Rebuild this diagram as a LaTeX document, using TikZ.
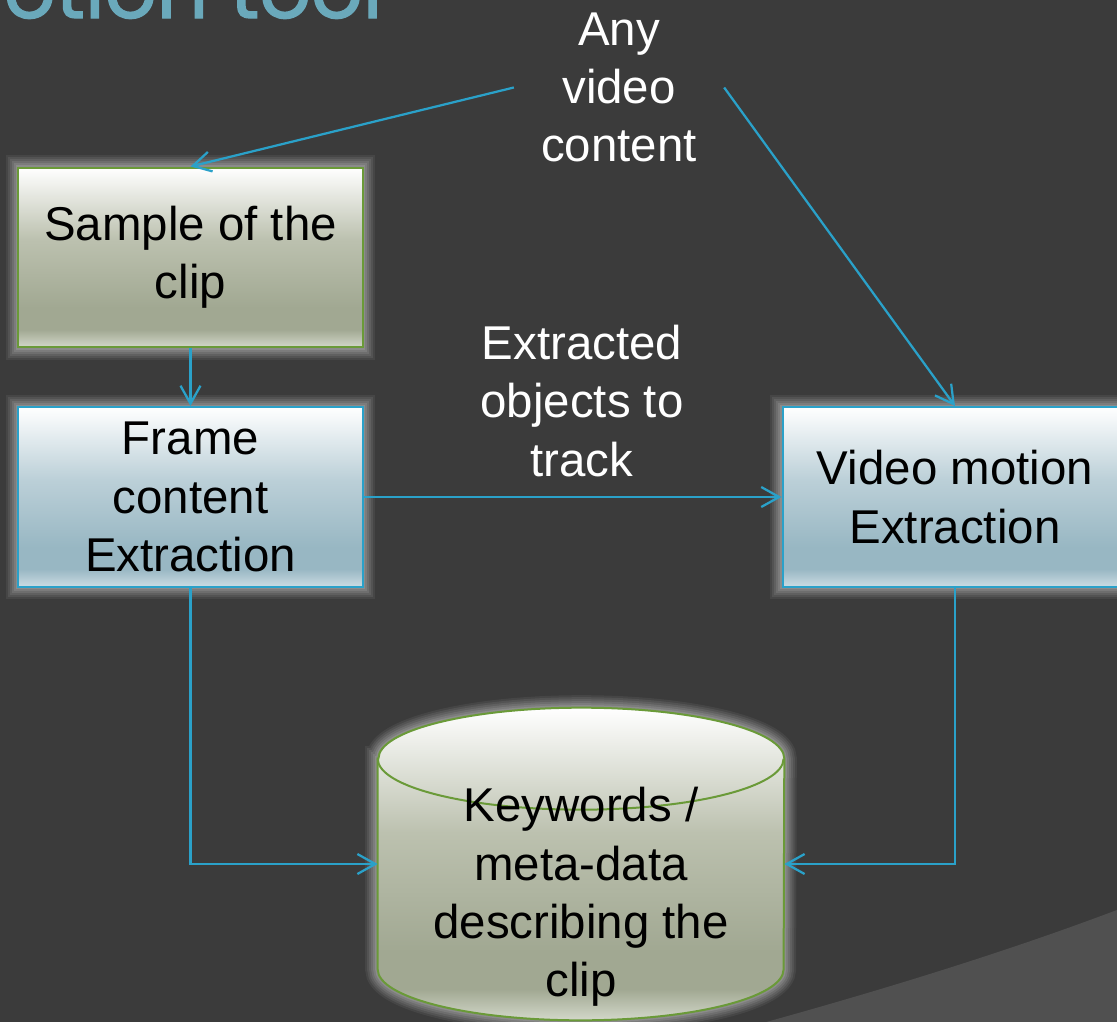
\documentclass[tikz,border=0pt]{standalone}
\usepackage{fontspec}
\setmainfont{Liberation Sans}
\newfontfamily\titlefont[FakeBold=1.5]{Poppins}
\usetikzlibrary{arrows.meta}

\definecolor{slidebg}{HTML}{3B3B3B}
\definecolor{slidecurve}{HTML}{505050}
\definecolor{titleteal}{HTML}{6AA9BB}
\definecolor{linkblue}{HTML}{2AA1C9}
\definecolor{boxgreen}{HTML}{6A9A38}
\definecolor{greenmid}{HTML}{BCC1AF}
\definecolor{greendark}{HTML}{A1A892}
\definecolor{greenlow}{HTML}{D3D8CA}
\definecolor{bluemid}{HTML}{BCD0D8}
\definecolor{bluedark}{HTML}{98B7C3}
\definecolor{bluelow}{HTML}{CCDCE3}

\pgfdeclareverticalshading{greenfill}{100bp}{color(0bp)=(greenlow); color(25bp)=(greenlow);
  color(30bp)=(greendark); color(36bp)=(greendark); color(55bp)=(greenmid);
  color(75bp)=(white); color(100bp)=(white)}
\pgfdeclareverticalshading{bluefill}{100bp}{color(0bp)=(bluelow); color(25bp)=(bluelow);
  color(30bp)=(bluedark); color(36bp)=(bluedark); color(55bp)=(bluemid);
  color(75bp)=(white); color(100bp)=(white)}

\begin{document}
\begin{tikzpicture}[x=0.02cm, y=-0.02cm,
    glow/.style={preaction={draw=white, line width=0.5cm, opacity=0.06},
      preaction={draw=white, line width=0.42cm, opacity=0.07},
      preaction={draw=white, line width=0.34cm, opacity=0.08},
      preaction={draw=white, line width=0.26cm, opacity=0.09},
      preaction={draw=white, line width=0.18cm, opacity=0.1},
      preaction={draw=white, line width=0.1cm, opacity=0.12}},
    step box/.style={rectangle, glow, minimum width=6.9cm, minimum height=3.6cm,
      align=center, line width=0.04cm,
      font=\fontsize{27}{33.2}\selectfont},
    greenbox/.style={step box, draw=boxgreen, shading=greenfill},
    bluebox/.style={step box, draw=linkblue, shading=bluefill},
    store/.style={rectangle, inner sep=0, minimum width=8.12cm, minimum height=6.24cm},
    storetext/.style={align=center, font=\fontsize{27}{33.2}\selectfont},
    note/.style={text=white, align=center, inner sep=0.54cm,
      font=\fontsize{27}{33.2}\selectfont},
    connection/.style={-{Straight Barb[length=0.36cm,width=0.4cm]},
      draw=linkblue, line width=0.045cm}
  ]
  \useasboundingbox (0,0) rectangle (1117,1022);
  \clip (0,0) rectangle (1117,1022);

  % slide background
  \fill[slidebg] (0,0) rectangle (1117,1022);
  \fill[slidecurve] (700,1040) .. controls (850,1000) and (1000,955) .. (1130,905)
    -- (1130,1040) -- cycle;
  \node[text=titleteal, anchor=base east, inner sep=0,
    font=\titlefont\fontsize{46}{50}\selectfont] (title) at (383,18) {otion tool};

  \node[note] (any) at (619,87.5) {Any\\video\\content};
  \node[note] (objects) at (582,401) {Extracted\\objects to\\track};

  \node[greenbox] (sample) at (190.5,257.5) {Sample of the\\clip};
  \node[bluebox] (frame) at (190.5,497) {Frame\\content\\Extraction};
  \node[bluebox] (motion) at (955,497) {Video motion\\Extraction};

  % database cylinder
  \node[store] (keys) at (581,864) {};
  \path[glow, draw=boxgreen, line width=0.04cm, shading=greenfill]
    ([yshift=-1.02cm]keys.north west) -- ([yshift=1.02cm]keys.south west)
    arc[start angle=180, end angle=360, x radius=4.06cm, y radius=1.02cm]
    -- ([yshift=-1.02cm]keys.north east)
    arc[start angle=0, end angle=180, x radius=4.06cm, y radius=1.02cm] -- cycle;
  \draw[boxgreen, line width=0.04cm] ([yshift=-1.02cm]keys.north west)
    arc[start angle=180, end angle=360, x radius=4.06cm, y radius=1.02cm];
  \node[storetext] (keystext) at (581,897)
    {Keywords /\\meta-data\\describing the\\clip};

  \draw[connection] (any.west) -- (sample.north);
  \draw[connection] (any.east) -- (motion.north);
  \draw[connection] (sample.south) -- (frame.north);
  \draw[connection] (frame.east) -- (motion.west);
  \draw[connection] (frame.south) |- (keys.west);
  \draw[connection] (motion.south) |- (keys.east);
\end{tikzpicture}
\end{document}
